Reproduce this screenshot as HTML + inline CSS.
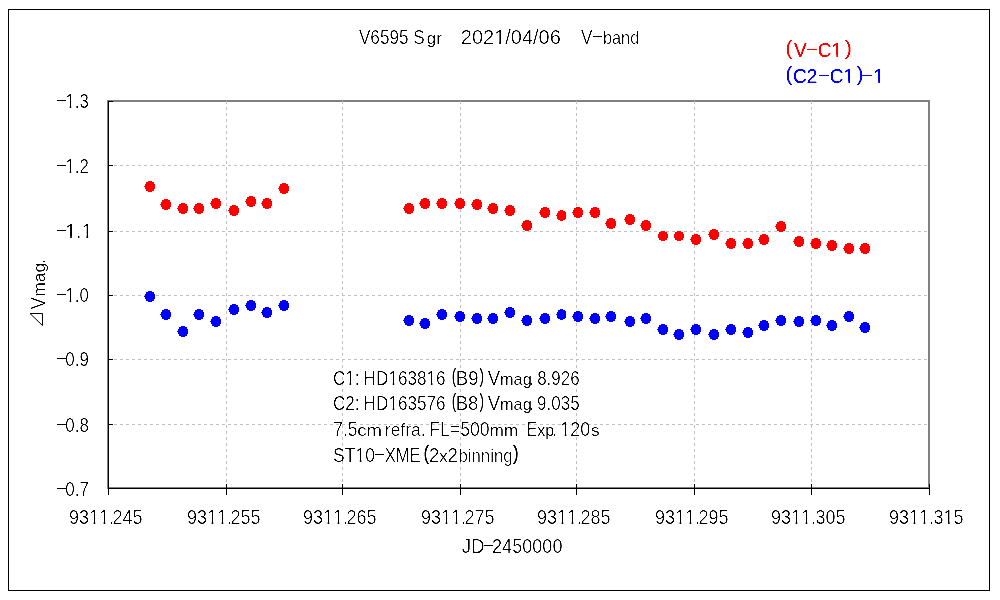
<!DOCTYPE html>
<html><head><meta charset="utf-8"><title>V6595 Sgr light curve</title>
<style>html,body{margin:0;padding:0;background:#fff;overflow:hidden}svg{display:block;will-change:transform}text{white-space:pre}</style></head>
<body>
<svg width="1000" height="600" viewBox="0 0 1000 600">
<rect width="1000" height="600" fill="#fff"/>
<defs><filter id="thin" x="0" y="0" width="1000" height="600" filterUnits="userSpaceOnUse" color-interpolation-filters="sRGB"><feComponentTransfer><feFuncA type="linear" slope="3.0" intercept="-1.540"/></feComponentTransfer></filter><filter id="bold" x="0" y="0" width="1000" height="600" filterUnits="userSpaceOnUse" color-interpolation-filters="sRGB"><feComponentTransfer><feFuncA type="discrete" tableValues="0 0.4 1 1"/></feComponentTransfer></filter></defs>
<g shape-rendering="crispEdges">
<rect x="8.5" y="9.5" width="981" height="581" fill="none" stroke="#000" stroke-width="1"/>
<rect x="108" y="101" width="821" height="387" fill="#fff" stroke="#808080" stroke-width="2"/>
<line x1="108" x2="928" y1="165.5" y2="165.5" stroke="#c0c0c0" stroke-width="1" stroke-dasharray="3 3"/>
<line x1="108" x2="928" y1="231.5" y2="231.5" stroke="#c0c0c0" stroke-width="1" stroke-dasharray="3 3"/>
<line x1="108" x2="928" y1="295.5" y2="295.5" stroke="#c0c0c0" stroke-width="1" stroke-dasharray="3 3"/>
<line x1="108" x2="928" y1="359.5" y2="359.5" stroke="#c0c0c0" stroke-width="1" stroke-dasharray="3 3"/>
<line x1="108" x2="928" y1="424.5" y2="424.5" stroke="#c0c0c0" stroke-width="1" stroke-dasharray="3 3"/>
<line y1="101" y2="487" x1="226.5" x2="226.5" stroke="#c0c0c0" stroke-width="1" stroke-dasharray="3 3"/>
<line y1="101" y2="487" x1="342.5" x2="342.5" stroke="#c0c0c0" stroke-width="1" stroke-dasharray="3 3"/>
<line y1="101" y2="487" x1="460.5" x2="460.5" stroke="#c0c0c0" stroke-width="1" stroke-dasharray="3 3"/>
<line y1="101" y2="487" x1="576.5" x2="576.5" stroke="#c0c0c0" stroke-width="1" stroke-dasharray="3 3"/>
<line y1="101" y2="487" x1="694.5" x2="694.5" stroke="#c0c0c0" stroke-width="1" stroke-dasharray="3 3"/>
<line y1="101" y2="487" x1="811.5" x2="811.5" stroke="#c0c0c0" stroke-width="1" stroke-dasharray="3 3"/>
<rect x="108" y="101" width="1" height="388" fill="#000" stroke="none"/>
<rect x="108" y="488" width="822" height="1" fill="#000" stroke="none"/>
<rect x="108" y="101" width="5" height="1" fill="#000" stroke="none"/>
<rect x="108" y="165" width="5" height="1" fill="#000" stroke="none"/>
<rect x="108" y="231" width="5" height="1" fill="#000" stroke="none"/>
<rect x="108" y="295" width="5" height="1" fill="#000" stroke="none"/>
<rect x="108" y="359" width="5" height="1" fill="#000" stroke="none"/>
<rect x="108" y="424" width="5" height="1" fill="#000" stroke="none"/>
<rect x="108" y="488" width="5" height="1" fill="#000" stroke="none"/>
<rect x="108" y="484" width="1" height="11" fill="#000" stroke="none"/>
<rect x="226" y="484" width="1" height="11" fill="#000" stroke="none"/>
<rect x="342" y="484" width="1" height="11" fill="#000" stroke="none"/>
<rect x="460" y="484" width="1" height="11" fill="#000" stroke="none"/>
<rect x="576" y="484" width="1" height="11" fill="#000" stroke="none"/>
<rect x="694" y="484" width="1" height="11" fill="#000" stroke="none"/>
<rect x="811" y="484" width="1" height="11" fill="#000" stroke="none"/>
<rect x="929" y="484" width="1" height="11" fill="#000" stroke="none"/>
<g fill="#f00">
<path transform="translate(150 186.5)" d="M-2-5.5h4v1h2v2h1v5h-1v2h-2v1h-4v-1h-2v-2h-1v-2h-1v-1h1v-2h1v-2h2z"/>
<path transform="translate(166 204.5)" d="M-2-5.5h4v1h2v2h1v5h-1v2h-2v1h-4v-1h-2v-2h-1v-2h-1v-1h1v-2h1v-2h2z"/>
<path transform="translate(183 208.5)" d="M-2-5.5h4v1h2v2h1v5h-1v2h-2v1h-4v-1h-2v-2h-1v-2h-1v-1h1v-2h1v-2h2z"/>
<path transform="translate(199 208.5)" d="M-2-5.5h4v1h2v2h1v5h-1v2h-2v1h-4v-1h-2v-2h-1v-2h-1v-1h1v-2h1v-2h2z"/>
<path transform="translate(216 203.5)" d="M-2-5.5h4v1h2v2h1v5h-1v2h-2v1h-4v-1h-2v-2h-1v-2h-1v-1h1v-2h1v-2h2z"/>
<path transform="translate(234 210.5)" d="M-2-5.5h4v1h2v2h1v5h-1v2h-2v1h-4v-1h-2v-2h-1v-2h-1v-1h1v-2h1v-2h2z"/>
<path transform="translate(251 201.5)" d="M-2-5.5h4v1h2v2h1v5h-1v2h-2v1h-4v-1h-2v-2h-1v-2h-1v-1h1v-2h1v-2h2z"/>
<path transform="translate(267 203.5)" d="M-2-5.5h4v1h2v2h1v5h-1v2h-2v1h-4v-1h-2v-2h-1v-2h-1v-1h1v-2h1v-2h2z"/>
<path transform="translate(284 188.5)" d="M-2-5.5h4v1h2v2h1v5h-1v2h-2v1h-4v-1h-2v-2h-1v-2h-1v-1h1v-2h1v-2h2z"/>
<path transform="translate(409 208.5)" d="M-2-5.5h4v1h2v2h1v5h-1v2h-2v1h-4v-1h-2v-2h-1v-2h-1v-1h1v-2h1v-2h2z"/>
<path transform="translate(425 203.5)" d="M-2-5.5h4v1h2v2h1v5h-1v2h-2v1h-4v-1h-2v-2h-1v-2h-1v-1h1v-2h1v-2h2z"/>
<path transform="translate(442 203.5)" d="M-2-5.5h4v1h2v2h1v5h-1v2h-2v1h-4v-1h-2v-2h-1v-2h-1v-1h1v-2h1v-2h2z"/>
<path transform="translate(460 203.5)" d="M-2-5.5h4v1h2v2h1v5h-1v2h-2v1h-4v-1h-2v-2h-1v-2h-1v-1h1v-2h1v-2h2z"/>
<path transform="translate(477 204.5)" d="M-2-5.5h4v1h2v2h1v5h-1v2h-2v1h-4v-1h-2v-2h-1v-2h-1v-1h1v-2h1v-2h2z"/>
<path transform="translate(493 208.5)" d="M-2-5.5h4v1h2v2h1v5h-1v2h-2v1h-4v-1h-2v-2h-1v-2h-1v-1h1v-2h1v-2h2z"/>
<path transform="translate(510 210.5)" d="M-2-5.5h4v1h2v2h1v5h-1v2h-2v1h-4v-1h-2v-2h-1v-2h-1v-1h1v-2h1v-2h2z"/>
<path transform="translate(527 225.5)" d="M-2-5.5h4v1h2v2h1v5h-1v2h-2v1h-4v-1h-2v-2h-1v-2h-1v-1h1v-2h1v-2h2z"/>
<path transform="translate(545 212.5)" d="M-2-5.5h4v1h2v2h1v5h-1v2h-2v1h-4v-1h-2v-2h-1v-2h-1v-1h1v-2h1v-2h2z"/>
<path transform="translate(561.5 215.5)" d="M-1.5-5.5h3v1h2v1h1v7h-1v1h-2v1h-3v-1h-2v-1h-1v-3h-1v-1h1v-2h1v-2h2z"/>
<path transform="translate(578 212.5)" d="M-2-5.5h4v1h2v2h1v5h-1v2h-2v1h-4v-1h-2v-2h-1v-2h-1v-1h1v-2h1v-2h2z"/>
<path transform="translate(595 212.5)" d="M-2-5.5h4v1h2v2h1v5h-1v2h-2v1h-4v-1h-2v-2h-1v-2h-1v-1h1v-2h1v-2h2z"/>
<path transform="translate(611 223.5)" d="M-2-5.5h4v1h2v2h1v5h-1v2h-2v1h-4v-1h-2v-2h-1v-2h-1v-1h1v-2h1v-2h2z"/>
<path transform="translate(630 219.5)" d="M-2-5.5h4v1h2v2h1v5h-1v2h-2v1h-4v-1h-2v-2h-1v-2h-1v-1h1v-2h1v-2h2z"/>
<path transform="translate(646 225.5)" d="M-2-5.5h4v1h2v2h1v5h-1v2h-2v1h-4v-1h-2v-2h-1v-2h-1v-1h1v-2h1v-2h2z"/>
<path transform="translate(663 236)" d="M-2-5h4v1h2v2h1v4h-1v2h-2v1h-4v-1h-2v-2h-1v-4h1v-2h2z"/>
<path transform="translate(679 236)" d="M-2-5h4v1h2v2h1v4h-1v2h-2v1h-4v-1h-2v-2h-1v-4h1v-2h2z"/>
<path transform="translate(696 239.5)" d="M-2-5.5h4v1h2v2h1v5h-1v2h-2v1h-4v-1h-2v-2h-1v-2h-1v-1h1v-2h1v-2h2z"/>
<path transform="translate(714 234.5)" d="M-2-5.5h4v1h2v2h1v5h-1v2h-2v1h-4v-1h-2v-2h-1v-2h-1v-1h1v-2h1v-2h2z"/>
<path transform="translate(731 243.5)" d="M-2-5.5h4v1h2v2h1v5h-1v2h-2v1h-4v-1h-2v-2h-1v-2h-1v-1h1v-2h1v-2h2z"/>
<path transform="translate(748 243.5)" d="M-2-5.5h4v1h2v2h1v5h-1v2h-2v1h-4v-1h-2v-2h-1v-2h-1v-1h1v-2h1v-2h2z"/>
<path transform="translate(764 239.5)" d="M-2-5.5h4v1h2v2h1v5h-1v2h-2v1h-4v-1h-2v-2h-1v-2h-1v-1h1v-2h1v-2h2z"/>
<path transform="translate(781 226.5)" d="M-2-5.5h4v1h2v2h1v5h-1v2h-2v1h-4v-1h-2v-2h-1v-2h-1v-1h1v-2h1v-2h2z"/>
<path transform="translate(799 241.5)" d="M-2-5.5h4v1h2v2h1v5h-1v2h-2v1h-4v-1h-2v-2h-1v-2h-1v-1h1v-2h1v-2h2z"/>
<path transform="translate(816 243.5)" d="M-2-5.5h4v1h2v2h1v5h-1v2h-2v1h-4v-1h-2v-2h-1v-2h-1v-1h1v-2h1v-2h2z"/>
<path transform="translate(832 245.5)" d="M-2-5.5h4v1h2v2h1v5h-1v2h-2v1h-4v-1h-2v-2h-1v-2h-1v-1h1v-2h1v-2h2z"/>
<path transform="translate(849 248.5)" d="M-2-5.5h4v1h2v2h1v5h-1v2h-2v1h-4v-1h-2v-2h-1v-2h-1v-1h1v-2h1v-2h2z"/>
<path transform="translate(865 248.5)" d="M-2-5.5h4v1h2v2h1v5h-1v2h-2v1h-4v-1h-2v-2h-1v-2h-1v-1h1v-2h1v-2h2z"/>
</g>
<g fill="#00f">
<path transform="translate(150 296.5)" d="M-2-5.5h4v1h2v2h1v5h-1v2h-2v1h-4v-1h-2v-2h-1v-2h-1v-1h1v-2h1v-2h2z"/>
<path transform="translate(166 314.5)" d="M-2-5.5h4v1h2v2h1v5h-1v2h-2v1h-4v-1h-2v-2h-1v-2h-1v-1h1v-2h1v-2h2z"/>
<path transform="translate(183 331.5)" d="M-2-5.5h4v1h2v2h1v5h-1v2h-2v1h-4v-1h-2v-2h-1v-2h-1v-1h1v-2h1v-2h2z"/>
<path transform="translate(199 314.5)" d="M-2-5.5h4v1h2v2h1v5h-1v2h-2v1h-4v-1h-2v-2h-1v-2h-1v-1h1v-2h1v-2h2z"/>
<path transform="translate(216 321.5)" d="M-2-5.5h4v1h2v2h1v5h-1v2h-2v1h-4v-1h-2v-2h-1v-2h-1v-1h1v-2h1v-2h2z"/>
<path transform="translate(234 309.5)" d="M-2-5.5h4v1h2v2h1v5h-1v2h-2v1h-4v-1h-2v-2h-1v-2h-1v-1h1v-2h1v-2h2z"/>
<path transform="translate(251 305.5)" d="M-2-5.5h4v1h2v2h1v5h-1v2h-2v1h-4v-1h-2v-2h-1v-2h-1v-1h1v-2h1v-2h2z"/>
<path transform="translate(267 312.5)" d="M-2-5.5h4v1h2v2h1v5h-1v2h-2v1h-4v-1h-2v-2h-1v-2h-1v-1h1v-2h1v-2h2z"/>
<path transform="translate(284 305.5)" d="M-2-5.5h4v1h2v2h1v5h-1v2h-2v1h-4v-1h-2v-2h-1v-2h-1v-1h1v-2h1v-2h2z"/>
<path transform="translate(409 320.5)" d="M-2-5.5h4v1h2v2h1v5h-1v2h-2v1h-4v-1h-2v-2h-1v-2h-1v-1h1v-2h1v-2h2z"/>
<path transform="translate(425 323.5)" d="M-2-5.5h4v1h2v2h1v5h-1v2h-2v1h-4v-1h-2v-2h-1v-2h-1v-1h1v-2h1v-2h2z"/>
<path transform="translate(442 314.5)" d="M-2-5.5h4v1h2v2h1v5h-1v2h-2v1h-4v-1h-2v-2h-1v-2h-1v-1h1v-2h1v-2h2z"/>
<path transform="translate(460 316.5)" d="M-2-5.5h4v1h2v2h1v5h-1v2h-2v1h-4v-1h-2v-2h-1v-2h-1v-1h1v-2h1v-2h2z"/>
<path transform="translate(477 318.5)" d="M-2-5.5h4v1h2v2h1v5h-1v2h-2v1h-4v-1h-2v-2h-1v-2h-1v-1h1v-2h1v-2h2z"/>
<path transform="translate(493 318.5)" d="M-2-5.5h4v1h2v2h1v5h-1v2h-2v1h-4v-1h-2v-2h-1v-2h-1v-1h1v-2h1v-2h2z"/>
<path transform="translate(510 312.5)" d="M-2-5.5h4v1h2v2h1v5h-1v2h-2v1h-4v-1h-2v-2h-1v-2h-1v-1h1v-2h1v-2h2z"/>
<path transform="translate(527 320.5)" d="M-2-5.5h4v1h2v2h1v5h-1v2h-2v1h-4v-1h-2v-2h-1v-2h-1v-1h1v-2h1v-2h2z"/>
<path transform="translate(545 318.5)" d="M-2-5.5h4v1h2v2h1v5h-1v2h-2v1h-4v-1h-2v-2h-1v-2h-1v-1h1v-2h1v-2h2z"/>
<path transform="translate(561.5 314.5)" d="M-1.5-5.5h3v1h2v1h1v7h-1v1h-2v1h-3v-1h-2v-1h-1v-3h-1v-1h1v-2h1v-2h2z"/>
<path transform="translate(578 316.5)" d="M-2-5.5h4v1h2v2h1v5h-1v2h-2v1h-4v-1h-2v-2h-1v-2h-1v-1h1v-2h1v-2h2z"/>
<path transform="translate(595 318.5)" d="M-2-5.5h4v1h2v2h1v5h-1v2h-2v1h-4v-1h-2v-2h-1v-2h-1v-1h1v-2h1v-2h2z"/>
<path transform="translate(611 316.5)" d="M-2-5.5h4v1h2v2h1v5h-1v2h-2v1h-4v-1h-2v-2h-1v-2h-1v-1h1v-2h1v-2h2z"/>
<path transform="translate(630 321.5)" d="M-2-5.5h4v1h2v2h1v5h-1v2h-2v1h-4v-1h-2v-2h-1v-2h-1v-1h1v-2h1v-2h2z"/>
<path transform="translate(646 318.5)" d="M-2-5.5h4v1h2v2h1v5h-1v2h-2v1h-4v-1h-2v-2h-1v-2h-1v-1h1v-2h1v-2h2z"/>
<path transform="translate(663 329.5)" d="M-2-5.5h4v1h2v2h1v5h-1v2h-2v1h-4v-1h-2v-2h-1v-2h-1v-1h1v-2h1v-2h2z"/>
<path transform="translate(679 334.5)" d="M-2-5.5h4v1h2v2h1v5h-1v2h-2v1h-4v-1h-2v-2h-1v-2h-1v-1h1v-2h1v-2h2z"/>
<path transform="translate(696 329.5)" d="M-2-5.5h4v1h2v2h1v5h-1v2h-2v1h-4v-1h-2v-2h-1v-2h-1v-1h1v-2h1v-2h2z"/>
<path transform="translate(714 334.5)" d="M-2-5.5h4v1h2v2h1v5h-1v2h-2v1h-4v-1h-2v-2h-1v-2h-1v-1h1v-2h1v-2h2z"/>
<path transform="translate(731 329.5)" d="M-2-5.5h4v1h2v2h1v5h-1v2h-2v1h-4v-1h-2v-2h-1v-2h-1v-1h1v-2h1v-2h2z"/>
<path transform="translate(748 332.5)" d="M-2-5.5h4v1h2v2h1v5h-1v2h-2v1h-4v-1h-2v-2h-1v-2h-1v-1h1v-2h1v-2h2z"/>
<path transform="translate(764 325.5)" d="M-2-5.5h4v1h2v2h1v5h-1v2h-2v1h-4v-1h-2v-2h-1v-2h-1v-1h1v-2h1v-2h2z"/>
<path transform="translate(781 320.5)" d="M-2-5.5h4v1h2v2h1v5h-1v2h-2v1h-4v-1h-2v-2h-1v-2h-1v-1h1v-2h1v-2h2z"/>
<path transform="translate(799 321.5)" d="M-2-5.5h4v1h2v2h1v5h-1v2h-2v1h-4v-1h-2v-2h-1v-2h-1v-1h1v-2h1v-2h2z"/>
<path transform="translate(816 320.5)" d="M-2-5.5h4v1h2v2h1v5h-1v2h-2v1h-4v-1h-2v-2h-1v-2h-1v-1h1v-2h1v-2h2z"/>
<path transform="translate(832 325.5)" d="M-2-5.5h4v1h2v2h1v5h-1v2h-2v1h-4v-1h-2v-2h-1v-2h-1v-1h1v-2h1v-2h2z"/>
<path transform="translate(849 316.5)" d="M-2-5.5h4v1h2v2h1v5h-1v2h-2v1h-4v-1h-2v-2h-1v-2h-1v-1h1v-2h1v-2h2z"/>
<path transform="translate(865 327.5)" d="M-2-5.5h4v1h2v2h1v5h-1v2h-2v1h-4v-1h-2v-2h-1v-2h-1v-1h1v-2h1v-2h2z"/>
</g>
</g>
<g font-family="'Liberation Sans', sans-serif" font-size="20px" style="font-kerning:none;font-variant-ligatures:none" filter="url(#thin)">
<text transform="translate(358.92 44) scale(0.8584 1.0)" fill="#000">V6595 S</text>
<text transform="translate(426.79 44) scale(0.8428 0.867)" fill="#000" stroke="#000" stroke-width="0.15" vector-effect="non-scaling-stroke">gr</text>
<text transform="translate(460.79 44) scale(0.9999 1.0)" fill="#000">2021/04/06</text>
<rect x="495" y="42" width="4.19" height="2" fill="#fff" stroke="none"/>
<rect x="500.96" y="42" width="4.04" height="2" fill="#fff" stroke="none"/>
<text transform="translate(581.12 44) scale(0.8584 1.0)" fill="#000">V</text>
<rect x="593" y="36" width="9" height="1" fill="#000" stroke="none"/>
<text transform="translate(602.95 44) scale(0.8160 0.93)" fill="#000">band</text>
</g>
<g font-family="'Liberation Sans', sans-serif" font-size="20px" style="font-kerning:none" filter="url(#bold)">
<text transform="translate(785.63 54.8) scale(0.9429 1.0)" fill="#f00">(</text>
<text transform="translate(794.12 57) scale(0.9572 1.0)" fill="#f00">V</text>
<rect x="807" y="49" width="10" height="1" fill="#f00" stroke="none"/>
<text transform="translate(817.84 57) scale(0.9493 1.0)" fill="#f00">C1</text>
<rect x="832" y="55" width="4.32" height="2" fill="#fff" stroke="none"/>
<rect x="838.00" y="55" width="4.00" height="2" fill="#fff" stroke="none"/>
<text transform="translate(845.08 54.8) scale(1.0183 1.0)" fill="#f00">)</text>
<text transform="translate(785.63 80.8) scale(0.9429 1.0)" fill="#00f">(</text>
<text transform="translate(793.03 83) scale(0.9514 1.0)" fill="#00f">C2</text>
<rect x="819" y="75" width="10" height="1" fill="#00f" stroke="none"/>
<text transform="translate(829.84 83) scale(0.9493 1.0)" fill="#00f">C1</text>
<rect x="844" y="81" width="4.32" height="2" fill="#fff" stroke="none"/>
<rect x="850.00" y="81" width="4.00" height="2" fill="#fff" stroke="none"/>
<text transform="translate(856.89 80.8) scale(0.9429 1.0)" fill="#00f">)</text>
<rect x="862" y="75" width="10" height="1" fill="#00f" stroke="none"/>
<text transform="translate(872.89 83) scale(1.0466 1.0)" fill="#00f">1</text>
<rect x="874" y="81" width="4.15" height="2" fill="#fff" stroke="none"/>
<rect x="880.00" y="81" width="4.00" height="2" fill="#fff" stroke="none"/>
</g>
<g font-family="'Liberation Sans', sans-serif" font-size="20px" style="font-kerning:none;font-variant-ligatures:none" filter="url(#thin)">
<rect x="57" y="100" width="9" height="1" fill="#000" stroke="none"/>
<text transform="translate(65.48 108) scale(0.8400 1.0)" fill="#000">1.3</text>
<rect x="66" y="106" width="3.71" height="2" fill="#fff" stroke="none"/>
<rect x="71.19" y="106" width="3.81" height="2" fill="#fff" stroke="none"/>
<rect x="57" y="165" width="9" height="1" fill="#000" stroke="none"/>
<text transform="translate(65.48 173) scale(0.8443 1.0)" fill="#000">1.2</text>
<rect x="66" y="171" width="3.72" height="2" fill="#fff" stroke="none"/>
<rect x="71.21" y="171" width="3.79" height="2" fill="#fff" stroke="none"/>
<rect x="57" y="230" width="9" height="1" fill="#000" stroke="none"/>
<text transform="translate(65.23 238) scale(0.9744 1.0)" fill="#000">1.1</text>
<rect x="66" y="236" width="4.13" height="2" fill="#fff" stroke="none"/>
<rect x="71.85" y="236" width="4.15" height="2" fill="#fff" stroke="none"/>
<rect x="82" y="236" width="4.38" height="2" fill="#fff" stroke="none"/>
<rect x="88.10" y="236" width="3.90" height="2" fill="#fff" stroke="none"/>
<rect x="57" y="294" width="9" height="1" fill="#000" stroke="none"/>
<text transform="translate(65.49 302) scale(0.8367 1.0)" fill="#000">1.0</text>
<rect x="66" y="300" width="3.70" height="2" fill="#fff" stroke="none"/>
<rect x="71.18" y="300" width="3.82" height="2" fill="#fff" stroke="none"/>
<rect x="57" y="358" width="9" height="1" fill="#000" stroke="none"/>
<text transform="translate(65.34 366) scale(0.8476 1.0)" fill="#000">0.9</text>
<rect x="57" y="424" width="9" height="1" fill="#000" stroke="none"/>
<text transform="translate(65.34 432) scale(0.8450 1.0)" fill="#000">0.8</text>
<rect x="57" y="488" width="9" height="1" fill="#000" stroke="none"/>
<text transform="translate(65.34 496) scale(0.8495 1.0)" fill="#000">0.7</text>
<text transform="translate(69.10 524) scale(0.9000 1)" fill="#000">9311</text>
<rect x="90" y="522" width="3.65" height="2" fill="#fff" stroke="none"/>
<rect x="95.24" y="522" width="3.76" height="2" fill="#fff" stroke="none"/>
<rect x="100" y="522" width="3.66" height="2" fill="#fff" stroke="none"/>
<rect x="105.25" y="522" width="3.75" height="2" fill="#fff" stroke="none"/>
<text transform="translate(109.65 524) scale(0.6827 1.0)" fill="#000">.</text>
<text transform="translate(112.50 524) scale(0.9000 1)" fill="#000">245</text>
<text transform="translate(187.10 524) scale(0.9000 1)" fill="#000">9311</text>
<rect x="208" y="522" width="3.65" height="2" fill="#fff" stroke="none"/>
<rect x="213.24" y="522" width="3.76" height="2" fill="#fff" stroke="none"/>
<rect x="218" y="522" width="3.66" height="2" fill="#fff" stroke="none"/>
<rect x="223.25" y="522" width="3.75" height="2" fill="#fff" stroke="none"/>
<text transform="translate(227.65 524) scale(0.6827 1.0)" fill="#000">.</text>
<text transform="translate(230.50 524) scale(0.9000 1)" fill="#000">255</text>
<text transform="translate(303.10 524) scale(0.9000 1)" fill="#000">9311</text>
<rect x="324" y="522" width="3.65" height="2" fill="#fff" stroke="none"/>
<rect x="329.24" y="522" width="3.76" height="2" fill="#fff" stroke="none"/>
<rect x="334" y="522" width="3.66" height="2" fill="#fff" stroke="none"/>
<rect x="339.25" y="522" width="3.75" height="2" fill="#fff" stroke="none"/>
<text transform="translate(343.65 524) scale(0.6827 1.0)" fill="#000">.</text>
<text transform="translate(346.50 524) scale(0.9000 1)" fill="#000">265</text>
<text transform="translate(421.10 524) scale(0.9000 1)" fill="#000">9311</text>
<rect x="442" y="522" width="3.65" height="2" fill="#fff" stroke="none"/>
<rect x="447.24" y="522" width="3.76" height="2" fill="#fff" stroke="none"/>
<rect x="452" y="522" width="3.66" height="2" fill="#fff" stroke="none"/>
<rect x="457.25" y="522" width="3.75" height="2" fill="#fff" stroke="none"/>
<text transform="translate(461.65 524) scale(0.6827 1.0)" fill="#000">.</text>
<text transform="translate(464.50 524) scale(0.9000 1)" fill="#000">275</text>
<text transform="translate(537.10 524) scale(0.9000 1)" fill="#000">9311</text>
<rect x="558" y="522" width="3.65" height="2" fill="#fff" stroke="none"/>
<rect x="563.24" y="522" width="3.76" height="2" fill="#fff" stroke="none"/>
<rect x="568" y="522" width="3.66" height="2" fill="#fff" stroke="none"/>
<rect x="573.25" y="522" width="3.75" height="2" fill="#fff" stroke="none"/>
<text transform="translate(577.65 524) scale(0.6827 1.0)" fill="#000">.</text>
<text transform="translate(580.50 524) scale(0.9000 1)" fill="#000">285</text>
<text transform="translate(655.10 524) scale(0.9000 1)" fill="#000">9311</text>
<rect x="676" y="522" width="3.65" height="2" fill="#fff" stroke="none"/>
<rect x="681.24" y="522" width="3.76" height="2" fill="#fff" stroke="none"/>
<rect x="686" y="522" width="3.66" height="2" fill="#fff" stroke="none"/>
<rect x="691.25" y="522" width="3.75" height="2" fill="#fff" stroke="none"/>
<text transform="translate(695.65 524) scale(0.6827 1.0)" fill="#000">.</text>
<text transform="translate(698.50 524) scale(0.9000 1)" fill="#000">295</text>
<text transform="translate(771.10 524) scale(0.9000 1)" fill="#000">9311</text>
<rect x="792" y="522" width="3.65" height="2" fill="#fff" stroke="none"/>
<rect x="797.24" y="522" width="3.76" height="2" fill="#fff" stroke="none"/>
<rect x="802" y="522" width="3.66" height="2" fill="#fff" stroke="none"/>
<rect x="807.25" y="522" width="3.75" height="2" fill="#fff" stroke="none"/>
<text transform="translate(811.65 524) scale(0.6827 1.0)" fill="#000">.</text>
<text transform="translate(815.50 524) scale(0.9000 1)" fill="#000">305</text>
<text transform="translate(889.10 524) scale(0.9000 1)" fill="#000">9311</text>
<rect x="910" y="522" width="3.65" height="2" fill="#fff" stroke="none"/>
<rect x="915.24" y="522" width="3.76" height="2" fill="#fff" stroke="none"/>
<rect x="920" y="522" width="3.66" height="2" fill="#fff" stroke="none"/>
<rect x="925.25" y="522" width="3.75" height="2" fill="#fff" stroke="none"/>
<text transform="translate(929.65 524) scale(0.6827 1.0)" fill="#000">.</text>
<text transform="translate(933.50 524) scale(0.9000 1)" fill="#000">315</text>
<rect x="944" y="522" width="4.04" height="2" fill="#fff" stroke="none"/>
<rect x="949.63" y="522" width="3.37" height="2" fill="#fff" stroke="none"/>
<text transform="translate(461.71 553) scale(0.9407 1.0)" fill="#000">JD</text>
<rect x="484" y="545" width="9" height="1" fill="#000" stroke="none"/>
<text transform="translate(491.99 553) scale(0.9057 1.0)" fill="#000">2450000</text>
<text transform="translate(332.93 385) scale(0.8557 1.0)" fill="#000">C1:</text>
<rect x="346" y="383" width="3.59" height="2" fill="#fff" stroke="none"/>
<rect x="351.11" y="383" width="3.89" height="2" fill="#fff" stroke="none"/>
<text transform="translate(363.59 385) scale(0.8592 1.0)" fill="#000">HD163816</text>
<rect x="389" y="383" width="3.73" height="2" fill="#fff" stroke="none"/>
<rect x="394.25" y="383" width="3.75" height="2" fill="#fff" stroke="none"/>
<rect x="427" y="383" width="3.96" height="2" fill="#fff" stroke="none"/>
<rect x="432.48" y="383" width="3.52" height="2" fill="#fff" stroke="none"/>
<text transform="translate(451.68 382.8) scale(0.6600 1.0)" fill="#000" stroke="#000" stroke-width="0.45" vector-effect="non-scaling-stroke">(</text>
<text transform="translate(455.78 385) scale(0.9280 1.0)" fill="#000">B9</text>
<text transform="translate(479.52 382.8) scale(0.6789 1.0)" fill="#000" stroke="#000" stroke-width="0.45" vector-effect="non-scaling-stroke">)</text>
<text transform="translate(487.72 385) scale(0.9268 1.0)" fill="#000">V</text>
<text transform="translate(499.91 385) scale(0.8212 0.867)" fill="#000" stroke="#000" stroke-width="0.15" vector-effect="non-scaling-stroke">mag</text>
<text transform="translate(529.85 385) scale(0.6302 1.0)" fill="#000">.</text>
<text transform="translate(537.16 385) scale(0.8488 1.0)" fill="#000">8.926</text>
<text transform="translate(332.93 410) scale(0.8557 1.0)" fill="#000">C2:</text>
<text transform="translate(363.59 410) scale(0.8592 1.0)" fill="#000">HD163576</text>
<rect x="389" y="408" width="3.73" height="2" fill="#fff" stroke="none"/>
<rect x="394.25" y="408" width="3.75" height="2" fill="#fff" stroke="none"/>
<text transform="translate(451.68 407.8) scale(0.6600 1.0)" fill="#000" stroke="#000" stroke-width="0.45" vector-effect="non-scaling-stroke">(</text>
<text transform="translate(455.78 410) scale(0.9247 1.0)" fill="#000">B8</text>
<text transform="translate(479.52 407.8) scale(0.6789 1.0)" fill="#000" stroke="#000" stroke-width="0.45" vector-effect="non-scaling-stroke">)</text>
<text transform="translate(487.72 410) scale(0.9268 1.0)" fill="#000">V</text>
<text transform="translate(499.91 410) scale(0.8212 0.867)" fill="#000" stroke="#000" stroke-width="0.15" vector-effect="non-scaling-stroke">mag</text>
<text transform="translate(529.85 410) scale(0.6302 1.0)" fill="#000">.</text>
<text transform="translate(537.10 410) scale(0.8494 1.0)" fill="#000">9.035</text>
<text transform="translate(333.31 436) scale(0.8713 1.0)" fill="#000">7.5</text>
<text transform="translate(357.21 436) scale(0.9309 0.867)" fill="#000" stroke="#000" stroke-width="0.15" vector-effect="non-scaling-stroke">cm</text>
<text transform="translate(384.84 436) scale(0.8731 0.93)" fill="#000">refra.</text>
<text transform="translate(429.35 436) scale(0.8823 1.0)" fill="#000">FL=500</text>
<text transform="translate(489.87 436) scale(0.8476 0.867)" fill="#000" stroke="#000" stroke-width="0.15" vector-effect="non-scaling-stroke">mm</text>
<text transform="translate(526.71 436) scale(0.7841 1.0)" fill="#000">E</text>
<text transform="translate(537.32 436) scale(0.7977 0.867)" fill="#000" stroke="#000" stroke-width="0.15" vector-effect="non-scaling-stroke">xp</text>
<text transform="translate(552.85 436) scale(0.6302 1.0)" fill="#000">.</text>
<text transform="translate(560.27 436) scale(0.8968 1.0)" fill="#000">120</text>
<rect x="561" y="434" width="3.79" height="2" fill="#fff" stroke="none"/>
<rect x="566.37" y="434" width="3.63" height="2" fill="#fff" stroke="none"/>
<text transform="translate(591.02 436) scale(0.8600 0.867)" fill="#000" stroke="#000" stroke-width="0.15" vector-effect="non-scaling-stroke">s</text>
<text transform="translate(333.00 462) scale(0.8761 1.0)" fill="#000">ST10</text>
<rect x="356" y="460" width="3.80" height="2" fill="#fff" stroke="none"/>
<rect x="361.35" y="460" width="3.65" height="2" fill="#fff" stroke="none"/>
<rect x="375" y="454" width="9" height="1" fill="#000" stroke="none"/>
<text transform="translate(384.63 462) scale(0.8280 1.0)" fill="#000">XME</text>
<text transform="translate(423.45 459.8) scale(0.8486 1.0)" fill="#000" stroke="#000" stroke-width="0.45" vector-effect="non-scaling-stroke">(</text>
<text transform="translate(429.06 462) scale(0.9329 1.0)" fill="#000">2</text>
<text transform="translate(439.31 462) scale(0.8368 0.867)" fill="#000" stroke="#000" stroke-width="0.15" vector-effect="non-scaling-stroke">x</text>
<text transform="translate(447.56 462) scale(0.9329 1.0)" fill="#000">2</text>
<text transform="translate(458.42 462) scale(0.8397 0.93)" fill="#000">binning</text>
<text transform="translate(512.90 459.8) scale(0.8486 1.0)" fill="#000" stroke="#000" stroke-width="0.45" vector-effect="non-scaling-stroke">)</text>
</g>
<g font-family="'Liberation Sans', sans-serif" font-size="20px" style="font-kerning:none" filter="url(#thin)">
<text transform="translate(45 309.28) rotate(-90) scale(0.9116 1.0)" fill="#000">V</text>
<text transform="translate(45 296.86) rotate(-90) scale(0.8735 0.867)" fill="#000" stroke="#000" stroke-width="0.15" vector-effect="non-scaling-stroke">mag</text>
<text transform="translate(45 263.34) rotate(-90) scale(0.7352 1.0)" fill="#000">.</text>
</g>
<path d="M30 313.5 H42.5 V325.5 Z" fill="none" stroke="#000" stroke-width="1" stroke-linejoin="miter"/>
</svg>
</body></html>
